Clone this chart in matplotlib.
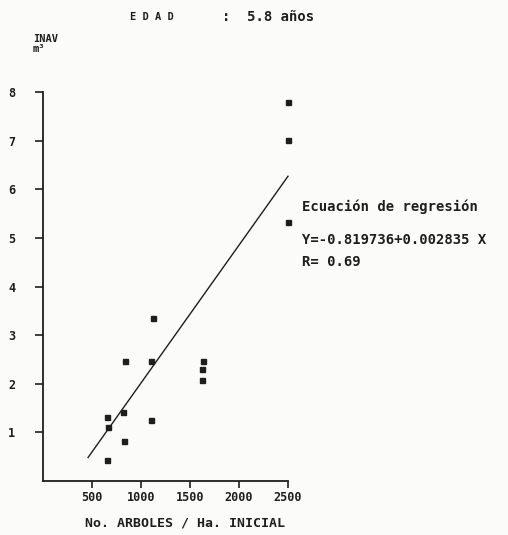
import matplotlib
matplotlib.use("Agg")
import matplotlib.pyplot as plt
import numpy as np

# scanned chart: INAV vs trees per hectare, age 5.8 years
arboles = [650, 666, 650, 826, 820, 837, 1099, 1099, 1125, 1619, 1626, 1636, 2500, 2500, 2500]
inav = [1.31, 1.11, 0.43, 0.82, 1.41, 2.47, 1.25, 2.47, 3.35, 2.30, 2.08, 2.46, 7.80, 7.01, 5.33]

x_ticks = [500, 1000, 1500, 2000, 2500]
y_ticks = [1, 2, 3, 4, 5, 6, 7, 8]

intercept = -0.819736
slope = 0.002835
line_x = [460, 2500]

INK = "#1e1e1e"
MONO = "DejaVu Sans Mono"

fig = plt.figure(figsize=(5.08, 5.35), dpi=100, facecolor="#fbfbfa")
ax = fig.add_axes([43 / 508, 1 - 481 / 535, (288 - 43) / 508, (481 - 92) / 535])
ax.set_facecolor("#fbfbfa")

ax.plot(arboles, inav, linestyle="none", marker="s", markersize=3.6, color=INK, clip_on=False)
reg_y = [intercept + slope * v for v in line_x]
ax.plot(line_x, reg_y, color=INK, linewidth=1.0, clip_on=False)

ax.set_xlim(0, 2500)
ax.set_ylim(0, 8)
ax.set_xticks(x_ticks)
ax.set_yticks(y_ticks)
ax.tick_params(axis="x", length=5, width=1.2, pad=2, colors=INK, labelsize=8.5)
ax.tick_params(axis="y", length=6, width=1.2, pad=14, colors=INK, labelsize=8.5)
for lab in ax.get_xticklabels() + ax.get_yticklabels():
    lab.set_family(MONO)
    lab.set_weight("bold")

for side in ["top", "right"]:
    ax.spines[side].set_visible(False)
for side in ["left", "bottom"]:
    ax.spines[side].set_linewidth(1.3)
    ax.spines[side].set_color(INK)

fig.text(130 / 508, 1 - 17 / 535, "E D A D", family=MONO, weight="bold",
         fontsize=7.5, color=INK, va="center", ha="left")
fig.text(222 / 508, 1 - 17 / 535, ":  5.8 años", family=MONO, weight="bold",
         fontsize=10, color=INK, va="center", ha="left")
fig.text(33 / 508, 1 - 44 / 535, "INAV\nm³", family=MONO, weight="bold",
         fontsize=7.5, color=INK, va="center", ha="left", linespacing=1.0)
fig.text(85 / 508, 1 - 523 / 535, "No. ARBOLES / Ha. INICIAL", family=MONO, weight="bold",
         fontsize=9.5, color=INK, va="center", ha="left")

fig.text(302 / 508, 1 - 207 / 535, "Ecuación de regresión", family=MONO, weight="bold",
         fontsize=10, color=INK, va="center", ha="left")
fig.text(302 / 508, 1 - 240 / 535, "Y=-0.819736+0.002835 X", family=MONO, weight="bold",
         fontsize=10, color=INK, va="center", ha="left")
fig.text(302 / 508, 1 - 262 / 535, "R= 0.69", family=MONO, weight="bold",
         fontsize=10, color=INK, va="center", ha="left")

fig.savefig("out.png", dpi=100, facecolor=fig.get_facecolor())
